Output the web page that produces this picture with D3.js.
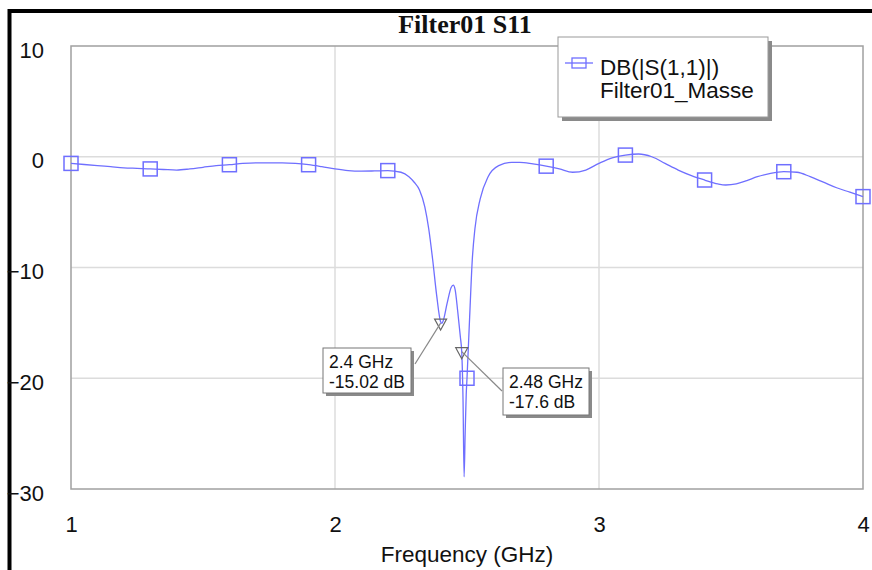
<!DOCTYPE html>
<html>
<head>
<meta charset="utf-8">
<script src="https://cdn.jsdelivr.net/npm/d3@7"></script>
<style>
	body { margin: 0; background: #fff; }
	svg { display: block; font-family: "Liberation Sans", Arial, sans-serif; }
</style>
</head>
<body>
<div class="chart"></div>
<script>
	// data
	var freq = [1.0, 1.05, 1.1, 1.15, 1.2, 1.25, 1.3, 1.35, 1.4, 1.45, 1.5, 1.55, 1.6, 1.65, 1.7, 1.75, 1.8, 1.85, 1.9, 1.95,
		2.0, 2.05, 2.1, 2.15, 2.2, 2.25, 2.28, 2.3, 2.32, 2.34, 2.355, 2.37, 2.385, 2.4, 2.405, 2.41, 2.425, 2.44, 2.448, 2.455,
		2.465, 2.475, 2.48, 2.485, 2.489, 2.493, 2.497, 2.5, 2.51, 2.52, 2.53, 2.55, 2.58, 2.62, 2.67, 2.7, 2.75, 2.8, 2.85, 2.9,
		2.95, 3.0, 3.05, 3.1, 3.15, 3.2, 3.25, 3.3, 3.35, 3.4, 3.45, 3.48, 3.52, 3.56, 3.6, 3.65, 3.7, 3.75, 3.8, 3.85, 3.9, 3.95, 4.0];
	var s11 = [-0.6, -0.7, -0.8, -0.9, -1.0, -1.05, -1.1, -1.15, -1.2, -1.1, -0.95, -0.8, -0.72, -0.6, -0.55, -0.55, -0.55, -0.6, -0.72, -0.9,
		-1.1, -1.25, -1.3, -1.28, -1.25, -1.4, -1.8, -2.3, -3.0, -4.5, -6.5, -9.3, -12.5, -14.9, -15.05, -14.8, -13.2, -11.8, -11.6, -12,
		-14, -16.3, -17.6, -22, -28.9, -25, -21.5, -20, -14.5, -9.3, -6.5, -3.8, -1.8, -0.8, -0.5, -0.5, -0.65, -0.85, -1.1, -1.4,
		-1.2, -0.6, -0.1, 0.15, 0.25, 0.0, -0.6, -1.2, -1.7, -2.1, -2.45, -2.55, -2.45, -2.15, -1.8, -1.5, -1.35, -1.4, -1.8, -2.3, -2.8, -3.2, -3.6];

	var symFreq = [1.0, 1.3, 1.6, 1.9, 2.2, 2.5, 2.8, 3.1, 3.4, 3.7, 4.0],
		symDB = [-0.6, -1.1, -0.72, -0.72, -1.25, -20, -0.85, 0.15, -2.1, -1.35, -3.6];

	var markFreq = [2.4, 2.48],
		markDB = [-15.02, -17.6],
		markText = [["2.4 GHz", "-15.02 dB"], ["2.48 GHz", "-17.6 dB"]];

	var xTicks = [1, 2, 3, 4],
		yTicks = [10, 0, -10, -20, -30];

	var title = "Filter01 S11",
		xLabel = "Frequency (GHz)",
		legendText = ["DB(|S(1,1)|)", "Filter01_Masse"];

	var width = 872,
		height = 570,
		plot = {left: 71, right: 863, top: 46, bottom: 489},
		blue = "#6f6fff";

	var svg = d3.select(".chart").append("svg")
		.attr("width", width)
		.attr("height", height);

	var x = d3.scaleLinear().domain([1, 4]).range([plot.left, plot.right]);
	var y = d3.scaleLinear().domain([-30, 10]).range([plot.bottom, plot.top]);

	// outer black frame
	svg.append("rect")
		.attr("x", 9.5).attr("y", 11)
		.attr("width", 900).attr("height", 600)
		.attr("fill", "none")
		.attr("stroke", "#000")
		.attr("stroke-width", 4);

	// title
	svg.append("text")
		.attr("x", 465).attr("y", 33)
		.attr("text-anchor", "middle")
		.style("font-family", "'Liberation Serif', 'Times New Roman', serif")
		.style("font-weight", "bold")
		.style("font-size", "26px")
		.attr("fill", "#111")
		.text(title);

	// grid
	svg.append("g").selectAll("line")
		.data(xTicks.slice(1, -1)).enter()
		.append("line")
		.attr("x1", function(d) { return x(d); })
		.attr("x2", function(d) { return x(d); })
		.attr("y1", plot.top).attr("y2", plot.bottom)
		.attr("stroke", "#dcdcdc").attr("stroke-width", 1.5);

	svg.append("g").selectAll("line")
		.data(yTicks.slice(1, -1)).enter()
		.append("line")
		.attr("y1", function(d) { return y(d); })
		.attr("y2", function(d) { return y(d); })
		.attr("x1", plot.left).attr("x2", plot.right)
		.attr("stroke", "#dcdcdc").attr("stroke-width", 1.5);

	// plot border
	svg.append("rect")
		.attr("x", plot.left).attr("y", plot.top)
		.attr("width", plot.right - plot.left).attr("height", plot.bottom - plot.top)
		.attr("fill", "none")
		.attr("stroke", "#a0a0a0")
		.attr("stroke-width", 1.5);

	// axes via d3 axis, then strip the lines
	var xAxis = svg.append("g")
		.attr("transform", "translate(0," + plot.bottom + ")")
		.call(d3.axisBottom(x).tickValues(xTicks).tickFormat(d3.format("d")).tickSize(0).tickPadding(0));
	xAxis.select(".domain").remove();
	xAxis.selectAll("text")
		.attr("y", 43).attr("dy", null)
		.style("font-size", "22px")
		.style("font-family", "'Liberation Sans', Arial, sans-serif")
		.attr("fill", "#111");

	var yAxis = svg.append("g")
		.attr("transform", "translate(44,0)")
		.call(d3.axisLeft(y).tickValues(yTicks).tickFormat(d3.format("d")).tickSize(0).tickPadding(0));
	yAxis.select(".domain").remove();
	yAxis.selectAll("text")
		.attr("x", 0).attr("dy", "0.5em")
		.style("font-size", "22px")
		.style("font-family", "'Liberation Sans', Arial, sans-serif")
		.attr("fill", "#111");

	svg.append("text")
		.attr("x", (plot.left + plot.right) / 2).attr("y", 562)
		.attr("text-anchor", "middle")
		.style("font-size", "22.5px")
		.attr("fill", "#111")
		.text(xLabel);

	// curve
	var pts = freq.map(function(d, i) { return [d, s11[i]]; });
	var line = d3.line()
		.x(function(d) { return x(d[0]); })
		.y(function(d) { return y(d[1]); })
		.curve(d3.curveMonotoneX);

	svg.append("path")
		.datum(pts)
		.attr("d", line)
		.attr("fill", "none")
		.attr("stroke", blue)
		.attr("stroke-width", 1.3);

	// square symbols
	svg.append("g").selectAll("rect")
		.data(symFreq).enter()
		.append("rect")
		.attr("x", function(d) { return x(d) - 7; })
		.attr("y", function(d, i) { return y(symDB[i]) - 7; })
		.attr("width", 14).attr("height", 14)
		.attr("fill", "none")
		.attr("stroke", blue)
		.attr("stroke-width", 1.5);

	// marker triangles
	svg.append("g").selectAll("path")
		.data(markFreq).enter()
		.append("path")
		.attr("d", function(d, i) {
			var px = x(d), py = y(markDB[i]);
			return "M" + (px - 6) + "," + (py - 4) + "L" + (px + 6) + "," + (py - 4) + "L" + px + "," + (py + 7) + "Z";
		})
		.attr("fill", "none")
		.attr("stroke", "#666")
		.attr("stroke-width", 1.2);

	// annotation boxes
	var boxes = [{x: 323, y: 348, w: 88, h: 45, lx: 415, ly: 364}, {x: 503, y: 368, w: 86, h: 47, lx: 502, ly: 391}];

	boxes.forEach(function(b, i) {
		svg.append("line")
			.attr("x1", b.lx).attr("y1", b.ly)
			.attr("x2", x(markFreq[i])).attr("y2", y(markDB[i]))
			.attr("stroke", "#888").attr("stroke-width", 1.2);
		svg.append("rect")
			.attr("x", b.x + 3).attr("y", b.y + 3)
			.attr("width", b.w).attr("height", b.h)
			.attr("fill", "#8a8a8a");
		svg.append("rect")
			.attr("x", b.x).attr("y", b.y)
			.attr("width", b.w).attr("height", b.h)
			.attr("fill", "#fff")
			.attr("stroke", "#777").attr("stroke-width", 1);
		svg.append("g").selectAll("text")
			.data(markText[i]).enter()
			.append("text")
			.attr("x", b.x + 6)
			.attr("y", function(d, j) { return b.y + 20 + 20 * j; })
			.style("font-size", "17.5px")
			.attr("fill", "#111")
			.text(function(d) { return d; });
	});

	// legend
	var lg = svg.append("g");
	lg.append("rect")
		.attr("x", 562).attr("y", 41)
		.attr("width", 210).attr("height", 80)
		.attr("fill", "#8a8a8a");
	lg.append("rect")
		.attr("x", 558).attr("y", 37)
		.attr("width", 210).attr("height", 80)
		.attr("fill", "#fff")
		.attr("stroke", "#999").attr("stroke-width", 1);
	lg.append("line")
		.attr("x1", 565).attr("x2", 593)
		.attr("y1", 63).attr("y2", 63)
		.attr("stroke", blue).attr("stroke-width", 1.3);
	lg.append("rect")
		.attr("x", 572).attr("y", 58)
		.attr("width", 14).attr("height", 10)
		.attr("fill", "none")
		.attr("stroke", blue).attr("stroke-width", 1.3);
	lg.selectAll("text.leg")
		.data(legendText).enter()
		.append("text")
		.attr("class", "leg")
		.attr("x", 600)
		.attr("y", function(d, i) { return 75 + 23 * i; })
		.style("font-size", "22.5px")
		.attr("fill", "#111")
		.text(function(d) { return d; });
</script>
</body>
</html>
